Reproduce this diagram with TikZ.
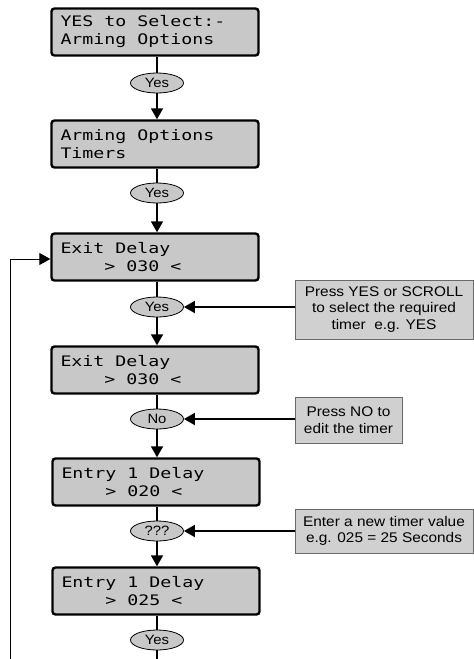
\documentclass[tikz,border=0pt]{standalone}
\usepackage{fontspec}
\setmainfont{Liberation Sans}[FakeStretch=1.1]
\newfontfamily\lcdfont{DejaVu Sans Mono}[FakeStretch=1.26]
\newcommand\ls{\phantom{0}}
\usetikzlibrary{arrows.meta,shapes.geometric}
\definecolor{lcdgray}{RGB}{200,200,200}
\definecolor{notegray}{RGB}{208,208,208}
\definecolor{noteedge}{RGB}{105,105,105}

\begin{document}
\begin{tikzpicture}[x=1pt,y=-1pt,
    lcd/.style={draw,line width=2.4pt,rounded corners=3pt,fill=lcdgray,
      minimum width=207pt,minimum height=47pt,text width=189pt,inner xsep=9pt,
      align=left,font=\lcdfont\fontsize{14.5}{18}\selectfont},
    key/.style={ellipse,draw,line width=0.8pt,fill=lcdgray,minimum width=53pt,
      minimum height=20pt,inner sep=0pt,font=\fontsize{13.5}{14}\selectfont},
    note/.style={draw=noteedge,line width=0.9pt,fill=notegray,align=center,
      inner sep=0pt,font=\fontsize{14}{16.7}\selectfont},
    link/.style={line width=1.8pt},
    flow/.style={line width=1.8pt,-{Triangle[length=11pt,width=12pt]}}]
  \useasboundingbox (0,0) rectangle (474,659);

  % keypad sequence
  \node[lcd] (arm) at (155,32) {YES\ls to\ls Select:-\\Arming\ls Options};
  \node[key] (yes1) at (157,83) {Yes};
  \node[lcd] (tim) at (155,144) {Arming\ls Options\\Timers};
  \node[key] (yes2) at (157,193) {Yes};
  \node[lcd] (exit1) at (155,257) {Exit\ls Delay\\\ls\ls\ls\ls>\ls 030\ls <};
  \node[key] (yes3) at (157,307) {Yes};
  \node[lcd] (exit2) at (155,370) {Exit\ls Delay\\\ls\ls\ls\ls>\ls 030\ls <};
  \node[key] (no) at (157,419) {No};
  \node[lcd] (entry1) at (156,482) {Entry\ls 1\ls Delay\\\ls\ls\ls\ls>\ls 020\ls <};
  \node[key] (edit) at (157,531) {???};
  \node[lcd] (entry2) at (156,591) {Entry\ls 1\ls Delay\\\ls\ls\ls\ls>\ls 025\ls <};
  \node[key] (yes4) at (157,640) {Yes};

  % side notes
  \node[note,minimum width=178pt,minimum height=59pt] (scroll) at (384,309.5)
    {Press YES or SCROLL\\to select the required\\timer\ \ e.g. YES};
  \node[note,minimum width=107pt,minimum height=46pt] (pressno) at (348.5,420)
    {Press NO to\\edit the timer};
  \node[note,minimum width=178pt,minimum height=44pt] (newval) at (384,531)
    {Enter a new timer value\\e.g. 025 = 25 Seconds};

  \coordinate (loopfoot) at (10,659);
  \coordinate (flowfoot) at (157,659);

  \draw[link] (arm.south -| yes1) -- (yes1);
  \draw[flow] (yes1) -- (tim.north -| yes1);
  \draw[link] (tim.south -| yes2) -- (yes2);
  \draw[flow] (yes2) -- (exit1.north -| yes2);
  \draw[link] (exit1.south -| yes3) -- (yes3);
  \draw[flow] (yes3) -- (exit2.north -| yes3);
  \draw[link] (exit2.south -| no) -- (no);
  \draw[flow] (no) -- (entry1.north -| no);
  \draw[link] (entry1.south -| edit) -- (edit);
  \draw[flow] (edit) -- (entry2.north -| edit);
  \draw[link] (entry2.south -| yes4) -- (yes4);
  \draw[link] (yes4) -- (flowfoot);

  \draw[flow] (scroll.west |- yes3) -- (yes3);
  \draw[flow] (pressno.west |- no) -- (no);
  \draw[flow] (newval.west |- edit) -- (edit);

  % back to the first timer
  \draw[line width=1pt,-{Triangle[length=11pt,width=12pt]}] (loopfoot) |- ([yshift=-2pt]exit1.west);
\end{tikzpicture}
\end{document}
